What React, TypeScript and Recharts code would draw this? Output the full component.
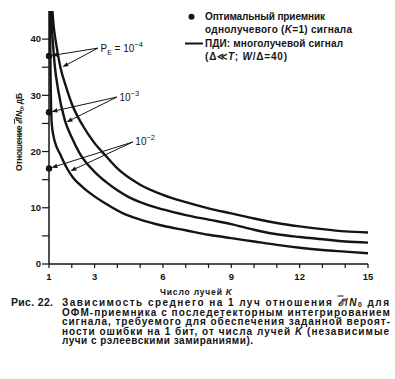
import React from 'react';
import { ComposedChart, Line, XAxis, YAxis, ReferenceLine, ReferenceDot } from 'recharts';

// Curve P_E = 10^-4 (PDI, multipath)
const kPe4 = [1.15, 1.2, 1.3, 1.5, 1.75, 2, 2.5, 3, 3.5, 4, 5, 6, 7, 8, 9, 10, 11, 12, 13, 14, 15];
const vPe4 = [45, 42.5, 39.5, 35, 31.5, 28.5, 24.5, 21.5, 19.2, 17.0, 14.1, 12.3, 11.0, 9.9, 9.0, 8.1, 7.3, 6.7, 6.2, 5.8, 5.6];
// Curve P_E = 10^-3
const kPe3 = [1.08, 1.15, 1.26, 1.4, 1.7, 2, 2.36, 3, 3.5, 4, 4.5, 5, 6, 7, 8, 9, 10, 11, 12, 13, 14, 15];
const vPe3 = [45, 40.5, 35, 31, 25.5, 22.5, 19.6, 16.4, 14.6, 13.1, 11.9, 11.0, 9.7, 8.7, 7.9, 7.1, 6.1, 5.3, 4.8, 4.4, 4.0, 3.8];
// Curve P_E = 10^-2
const kPe2 = [1.04, 1.07, 1.12, 1.2, 1.3, 1.48, 1.75, 2.05, 2.5, 2.8, 3.5, 4.25, 5, 6, 7, 8, 9, 10, 11, 12, 13, 14, 15];
const vPe2 = [45, 33, 25, 22.7, 21.2, 19.6, 17.3, 15.4, 13.6, 12.6, 10.7, 9.0, 7.9, 6.8, 6.0, 5.2, 4.6, 4.0, 3.4, 2.9, 2.5, 2.2, 1.9];

// Optimal single-path receiver (K = 1)
const optimalK = [1, 1, 1];
const optimalV = [37, 27, 17];

const xTicks = [1, 2, 3, 4, 5, 6, 7, 8, 9, 10, 11, 12, 13, 14, 15];
const xTickLabels = [1, 3, 6, 9, 12, 15];
const yTicks = [0, 5, 10, 15, 20, 25, 30, 35, 40];
const yTickLabels = [0, 10, 20, 30, 40];

// annotation: label anchor (k, v), curve target (k, v), exponent
const annLabelK = [3.15, 3.98, 4.68];
const annLabelV = [38.4, 29.7, 21.7];
const annCurveK = [1.57, 1.75, 1.92];
const annCurveV = [35.0, 25.2, 16.5];
const annExp = ['−4', '−3', '−2'];

const zip = (ks: number[], vs: number[]) => ks.map((k, i) => ({ k, v: vs[i] }));
const dataPe4 = zip(kPe4, vPe4);
const dataPe3 = zip(kPe3, vPe3);
const dataPe2 = zip(kPe2, vPe2);

const INK = '#141414';
const FONT = '"Liberation Sans", Arial, sans-serif';

const makeArrow = (shorten: number, labelIdx: number | null) => (p: any) => {
  const x1 = Number(p.x1), y1 = Number(p.y1), x2 = Number(p.x2), y2 = Number(p.y2);
  const dx = x2 - x1, dy = y2 - y1;
  const len = Math.hypot(dx, dy) || 1;
  const ux = dx / len, uy = dy / len;
  const tx = x2 - ux * shorten, ty = y2 - uy * shorten;
  const hl = 6, hw = 2.2;
  const bx = tx - ux * hl, by = ty - uy * hl;
  return (
    <g>
      <line x1={x1} y1={y1} x2={bx} y2={by} stroke={INK} strokeWidth={1} />
      <polygon points={`${tx},${ty} ${bx - uy * hw},${by + ux * hw} ${bx + uy * hw},${by - ux * hw}`} fill={INK} />
      {labelIdx !== null && (
        <text x={x1 + 2.5} y={y1 + 3.5} fontFamily={FONT} fontSize={10} fill={INK}>
          {labelIdx === 0 ? (
            <>
              P<tspan fontSize={7} dy={3}>E</tspan>
              <tspan dy={-3}> = 10</tspan>
            </>
          ) : (
            <>10</>
          )}
          <tspan fontSize={7.5} dy={-5}>{annExp[labelIdx]}</tspan>
        </text>
      )}
    </g>
  );
};

export default function App() {
  const captionLines = [
    'ОФМ-приемника с последетекторным интегрированием',
    'сигнала, требуемого для обеспечения заданной вероят-',
  ];
  return (
    <div style={{ position: 'absolute', left: 0, top: 0, width: 395, height: 379, background: '#fff' }}>
      <ComposedChart width={395} height={379} margin={{ top: 11, right: 27, left: 0, bottom: 85 }}>
        <XAxis
          type="number"
          dataKey="k"
          domain={[1, 15]}
          ticks={xTicks}
          interval={0}
          allowDataOverflow
          tickFormatter={(t: number) => (xTickLabels.includes(t) ? String(t) : '')}
          height={30}
          tickSize={4}
          tickMargin={5}
          stroke={INK}
          axisLine={{ stroke: INK, strokeWidth: 1.5 }}
          tickLine={{ stroke: INK, strokeWidth: 1.2 }}
          tick={{ fill: INK, fontSize: 9.5, fontFamily: FONT, fontWeight: 'bold' }}
        />
        <YAxis
          type="number"
          domain={[0, 45]}
          ticks={yTicks}
          interval={0}
          allowDataOverflow
          tickFormatter={(t: number) => (yTickLabels.includes(t) ? String(t) : '')}
          width={49}
          tickSize={7}
          tickMargin={1}
          stroke={INK}
          axisLine={{ stroke: INK, strokeWidth: 1.5 }}
          tickLine={{ stroke: INK, strokeWidth: 1.2 }}
          tick={{ fill: INK, fontSize: 9.5, fontFamily: FONT, fontWeight: 'bold' }}
        />
        <Line data={dataPe4} dataKey="v" type="monotone" stroke={INK} strokeWidth={2.4} dot={false} isAnimationActive={false} />
        <Line data={dataPe3} dataKey="v" type="monotone" stroke={INK} strokeWidth={2.4} dot={false} isAnimationActive={false} />
        <Line data={dataPe2} dataKey="v" type="monotone" stroke={INK} strokeWidth={2.4} dot={false} isAnimationActive={false} />
        {optimalK.map((k, i) => (
          <ReferenceDot key={`o${i}`} x={k} y={optimalV[i]} r={3.2} fill={INK} stroke="none" />
        ))}
        {annLabelK.map((lk, i) => (
          <ReferenceLine
            key={`d${i}`}
            segment={[{ x: lk, y: annLabelV[i] }, { x: optimalK[i], y: optimalV[i] }]}
            shape={makeArrow(2.5, i)}
          />
        ))}
        {annLabelK.map((lk, i) => (
          <ReferenceLine
            key={`c${i}`}
            segment={[{ x: lk, y: annLabelV[i] }, { x: annCurveK[i], y: annCurveV[i] }]}
            shape={makeArrow(0.5, null)}
          />
        ))}
      </ComposedChart>
      <svg width={395} height={379} style={{ position: 'absolute', left: 0, top: 0, pointerEvents: 'none' }}>
        <g fontFamily={FONT} fontWeight="bold" fill={INK}>
          {/* legend */}
          <circle cx={191.5} cy={16.7} r={3} fill={INK} />
          <text x={205} y={20} fontSize={10} textLength={120} lengthAdjust="spacing">Оптимальный приемник</text>
          <text x={205} y={33} fontSize={10} textLength={147} lengthAdjust="spacing">
            однолучевого (<tspan fontStyle="italic">K</tspan>=1) сигнала
          </text>
          <line x1={185} y1={43.5} x2={203} y2={43.5} stroke={INK} strokeWidth={2} />
          <text x={205} y={47} fontSize={10} textLength={138} lengthAdjust="spacing">ПДИ: многолучевой сигнал</text>
          <text x={205} y={60} fontSize={10} textLength={82} lengthAdjust="spacing">
            (Δ≪<tspan fontStyle="italic">T</tspan>;  <tspan fontStyle="italic">W</tspan>/Δ=40)
          </text>
          {/* y axis title */}
          <text transform="translate(22,132) rotate(-90)" textAnchor="middle" fontSize={8.5} textLength={78} lengthAdjust="spacing">
            Отношение <tspan textDecoration="overline" fontStyle="italic">ℰ</tspan>/<tspan fontStyle="italic">N</tspan>
            <tspan fontSize={6} dy={2}>0</tspan>
            <tspan dy={-2}>, дБ</tspan>
          </text>
          {/* x axis title */}
          <text x={196} y={294.5} textAnchor="middle" fontSize={8.5} textLength={72} lengthAdjust="spacing">
            Число лучей <tspan fontStyle="italic">K</tspan>
          </text>
          {/* caption */}
          <text x={11} y={305.5} fontSize={10.5} textLength={42} lengthAdjust="spacing">Рис. 22.</text>
          <text x={62} y={305.5} fontSize={10} textLength={327} lengthAdjust="spacing">
            Зависимость среднего на 1 луч отношения <tspan textDecoration="overline" fontStyle="italic">ℰ</tspan>/<tspan fontStyle="italic">N</tspan>
            <tspan fontSize={7} dy={1.5}>0</tspan>
            <tspan dy={-1.5}> для</tspan>
          </text>
          <text x={62} y={315.5} fontSize={10} textLength={328} lengthAdjust="spacing">{captionLines[0]}</text>
          <text x={62} y={325} fontSize={10} textLength={328} lengthAdjust="spacing">{captionLines[1]}</text>
          <text x={62} y={334.5} fontSize={10} textLength={327} lengthAdjust="spacing">
            ности ошибки на 1 бит, от числа лучей <tspan fontStyle="italic">K</tspan> (независимые
          </text>
          <text x={62} y={344} fontSize={10} textLength={191} lengthAdjust="spacing">лучи с рэлеевскими замираниями).</text>
        </g>
      </svg>
    </div>
  );
}
